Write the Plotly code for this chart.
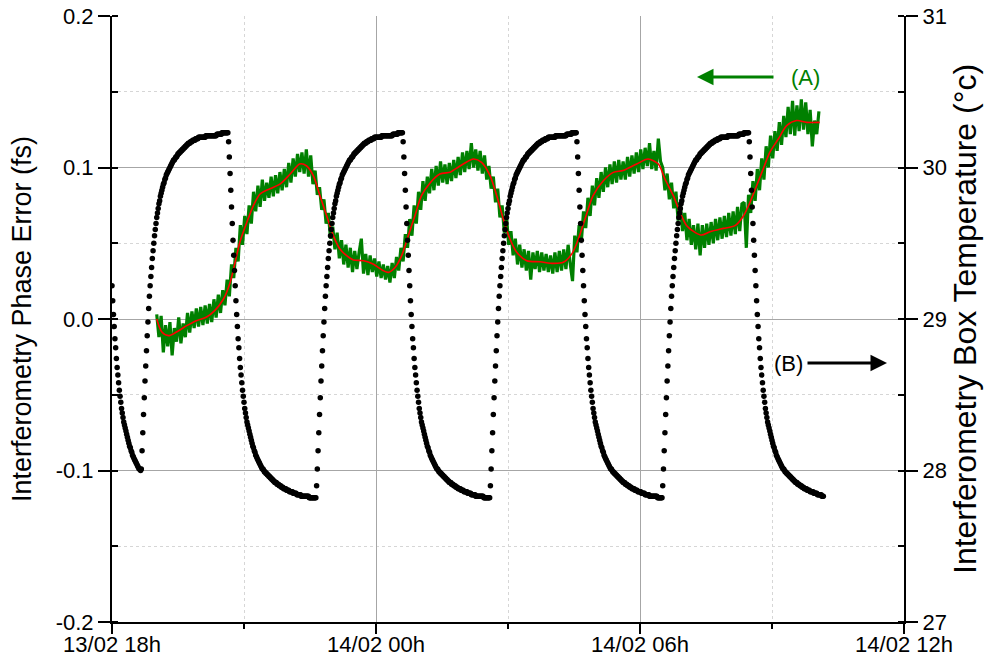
import pandas as pd
import plotly.graph_objects as go

# ---------------- data ----------------
START = pd.Timestamp("2015-02-13 18:00")
X_RANGE_HOURS = 18

# Box temperature (right axis, degC), one reading per minute.
fall_profile = [
    30.23, 30.17, 30.07, 29.96, 29.85, 29.74, 29.63, 29.52, 29.42, 29.32,
    29.22, 29.12, 29.03, 28.95, 28.87, 28.81, 28.74, 28.68, 28.63, 28.58,
    28.53, 28.49, 28.45, 28.41, 28.38, 28.35, 28.32, 28.30, 28.28, 28.26,
    28.24, 28.22, 28.20, 28.18, 28.16, 28.15, 28.13, 28.12, 28.10, 28.09,
    28.08, 28.07, 28.06, 28.05, 28.04, 28.03, 28.02, 28.01, 28.01, 28.00,
    27.99, 27.99, 27.98, 27.98, 27.97, 27.97, 27.96, 27.96, 27.95, 27.95,
    27.94, 27.94, 27.93, 27.93, 27.92, 27.92, 27.92, 27.91, 27.91, 27.91,
    27.90, 27.90, 27.90, 27.89, 27.89, 27.89, 27.88, 27.88, 27.88, 27.88,
    27.87, 27.87, 27.87, 27.87, 27.86, 27.86, 27.86, 27.86, 27.86, 27.85,
    27.85, 27.85, 27.85, 27.85, 27.84, 27.84, 27.84, 27.84, 27.84, 27.84,
    27.83, 27.83, 27.83, 27.83, 27.83, 27.83, 27.83, 27.83, 27.83, 27.83,
    27.83, 27.82, 27.82, 27.82, 27.82, 27.82, 27.82, 27.82, 27.82, 27.82,
]
rise_profile = [
    27.82, 27.90, 28.01, 28.13, 28.25, 28.37, 28.48, 28.59, 28.69, 28.79,
    28.89, 28.98, 29.07, 29.15, 29.22, 29.28, 29.34, 29.40, 29.45, 29.50,
    29.55, 29.59, 29.63, 29.67, 29.70, 29.73, 29.76, 29.78, 29.81, 29.83,
    29.85, 29.87, 29.89, 29.90, 29.92, 29.93, 29.95, 29.96, 29.97, 29.98,
    29.99, 30.00, 30.01, 30.02, 30.03, 30.04, 30.05, 30.05, 30.06, 30.07,
    30.07, 30.08, 30.09, 30.09, 30.10, 30.10, 30.11, 30.11, 30.12, 30.12,
    30.13, 30.13, 30.14, 30.14, 30.15, 30.15, 30.16, 30.16, 30.16, 30.17,
    30.17, 30.17, 30.18, 30.18, 30.18, 30.18, 30.19, 30.19, 30.19, 30.19,
    30.20, 30.20, 30.20, 30.20, 30.20, 30.20, 30.20, 30.20, 30.20, 30.20,
    30.21, 30.21, 30.21, 30.21, 30.21, 30.21, 30.21, 30.21, 30.21, 30.21,
    30.21, 30.21, 30.21, 30.21, 30.21, 30.22, 30.22, 30.22, 30.22, 30.22,
    30.22, 30.22, 30.23, 30.23, 30.23, 30.23, 30.23, 30.23, 30.23, 30.23,
]
# (branch, first sample of branch used, number of one-minute samples)
temp_segments = [
    ("fall", 10, 40), ("rise", 2, 118), ("fall", 0, 120), ("rise", 0, 118),
    ("fall", 0, 119), ("rise", 0, 118), ("fall", 0, 117), ("rise", 0, 118),
    ("fall", 0, 103),
]

# Phase error (left axis, fs), one reading every 3 minutes from 19:01
phase_start_minute = 61
phase_step_minutes = 3
phase_error = [
    0.003, -0.012, 0.002, -0.022, -0.004, -0.018, -0.002, -0.024, -0.006, -0.015,
    0.001, -0.016, -0.003, -0.012, 0.004, -0.009, 0.005, -0.006, 0.007, -0.005,
    0.008, -0.004, 0.009, -0.003, 0.010, -0.002, 0.013, 0.001, 0.016, 0.004,
    0.019, 0.009, 0.026, 0.015, 0.036, 0.027, 0.047, 0.038, 0.062, 0.049,
    0.068, 0.056, 0.075, 0.063, 0.084, 0.071, 0.088, 0.074, 0.092, 0.078,
    0.090, 0.080, 0.094, 0.081, 0.095, 0.083, 0.097, 0.085, 0.099, 0.087,
    0.103, 0.090, 0.106, 0.094, 0.109, 0.097, 0.110, 0.096, 0.112, 0.094,
    0.108, 0.089, 0.098, 0.082, 0.087, 0.072, 0.079, 0.063, 0.070, 0.053,
    0.061, 0.046, 0.057, 0.040, 0.052, 0.036, 0.049, 0.034, 0.047, 0.031,
    0.045, 0.033, 0.044, 0.053, 0.030, 0.043, 0.029, 0.042, 0.031, 0.040,
    0.028, 0.038, 0.027, 0.036, 0.026, 0.035, 0.024, 0.037, 0.027, 0.041,
    0.032, 0.047, 0.038, 0.056, 0.047, 0.066, 0.055, 0.075, 0.063, 0.084,
    0.072, 0.091, 0.078, 0.094, 0.083, 0.099, 0.085, 0.101, 0.088, 0.104,
    0.090, 0.102, 0.089, 0.103, 0.091, 0.105, 0.093, 0.107, 0.095, 0.110,
    0.097, 0.111, 0.099, 0.116, 0.100, 0.112, 0.098, 0.111, 0.096, 0.108,
    0.092, 0.101, 0.086, 0.094, 0.077, 0.086, 0.067, 0.075, 0.057, 0.067,
    0.049, 0.058, 0.042, 0.053, 0.036, 0.049, 0.034, 0.046, 0.032, 0.045,
    0.026, 0.044, 0.033, 0.045, 0.031, 0.044, 0.032, 0.043, 0.031, 0.042,
    0.030, 0.044, 0.031, 0.045, 0.032, 0.046, 0.033, 0.049, 0.036, 0.025,
    0.055, 0.044, 0.062, 0.051, 0.071, 0.060, 0.080, 0.068, 0.088, 0.075,
    0.093, 0.080, 0.097, 0.084, 0.100, 0.087, 0.102, 0.089, 0.104, 0.090,
    0.105, 0.092, 0.104, 0.092, 0.107, 0.094, 0.108, 0.096, 0.110, 0.097,
    0.112, 0.099, 0.113, 0.101, 0.116, 0.099, 0.111, 0.098, 0.119, 0.104,
    0.100, 0.085, 0.096, 0.079, 0.090, 0.073, 0.084, 0.065, 0.077, 0.058,
    0.070, 0.052, 0.066, 0.049, 0.062, 0.046, 0.063, 0.042, 0.062, 0.047,
    0.063, 0.049, 0.064, 0.050, 0.066, 0.052, 0.067, 0.053, 0.068, 0.054,
    0.070, 0.055, 0.071, 0.056, 0.074, 0.058, 0.076, 0.077, 0.047, 0.082,
    0.070, 0.091, 0.078, 0.099, 0.085, 0.106, 0.092, 0.114, 0.100, 0.121,
    0.106, 0.124, 0.111, 0.130, 0.115, 0.134, 0.120, 0.140, 0.122, 0.144,
    0.121, 0.141, 0.124, 0.145, 0.125, 0.143, 0.122, 0.138, 0.114, 0.131,
    0.122, 0.137,
]

# Smoothed phase error (red), minutes after 18:00 and value (fs)
smooth_minutes = [
    61, 68, 77, 88, 102, 115, 129, 140, 152, 161, 168, 174.5, 184, 193, 202,
    215.5, 229, 243, 256, 265.5, 274.5, 283.6, 292.8, 301.8, 311, 320, 329,
    343, 356, 370, 377, 386, 395, 404, 413, 422, 434, 447, 461, 465, 479, 493,
    504, 515.5, 524.6, 533.6, 542.7, 552, 565.5, 583.6, 601.8, 615.4, 627, 636,
    645, 656, 670, 683.6, 697, 715.5, 731, 745, 754, 765.4, 774.5, 783.7, 795,
    804, 815.5, 833.6, 849.5, 861, 870, 879, 888, 897, 908.6, 920, 933.6, 947, 965,
]
smooth_values = [
    0.0, -0.0086, -0.011, -0.0086, -0.0044, -0.0011, 0.0013, 0.0055, 0.0132,
    0.024, 0.0376, 0.051, 0.064, 0.075, 0.0825, 0.086, 0.089, 0.0957, 0.1023,
    0.101, 0.0946, 0.0814, 0.068, 0.055, 0.046, 0.0418, 0.039, 0.0385, 0.0363,
    0.0319, 0.0308, 0.034, 0.0418, 0.055, 0.068, 0.0814, 0.090, 0.0957, 0.0968,
    0.098, 0.1023, 0.1056, 0.1034, 0.0946, 0.0814, 0.066, 0.0528, 0.044, 0.0385,
    0.0378, 0.0367, 0.0374, 0.043, 0.0528, 0.066, 0.0814, 0.0913, 0.0968, 0.098,
    0.1023, 0.1056, 0.1023, 0.0924, 0.0814, 0.0704, 0.0616, 0.0572, 0.0554,
    0.0576, 0.0598, 0.0616, 0.068, 0.077, 0.088, 0.099, 0.11, 0.1188, 0.1276,
    0.131, 0.1298, 0.1298,
]

left_ticks = [-0.2, -0.1, 0.0, 0.1, 0.2]
left_tick_labels = ["-0.2", "-0.1", "0.0", "0.1", "0.2"]
right_ticks = [27, 28, 29, 30, 31]

# ---------------- assemble ----------------
branches = {"fall": fall_profile, "rise": rise_profile}
temperature = []
for name, first, count in temp_segments:
    temperature.extend(branches[name][first:first + count])
temp_time = [START + pd.Timedelta(minutes=i) for i in range(len(temperature))]
phase_time = [START + pd.Timedelta(minutes=phase_start_minute + phase_step_minutes * i)
              for i in range(len(phase_error))]
smooth_time = [START + pd.Timedelta(minutes=m) for m in smooth_minutes]

FONT = "Liberation Sans, Arial, sans-serif"
GREEN = "#008000"
MAJOR_GRID = "#a6a6a6"
MINOR_GRID = "#d6d6d6"

fig = go.Figure()
fig.add_trace(go.Scatter(x=phase_time, y=phase_error, mode="lines",
                         line=dict(color=GREEN, width=3.2), yaxis="y", showlegend=False))
fig.add_trace(go.Scatter(x=smooth_time, y=smooth_values, mode="lines",
                         line=dict(color="#ff0000", width=1.6, shape="spline", smoothing=0.8),
                         yaxis="y", showlegend=False))
fig.add_trace(go.Scatter(x=temp_time, y=temperature, mode="markers",
                         marker=dict(color="black", size=5.5), yaxis="y2", showlegend=False))

# plot box at 112..904 x 16..622 (the page body margin is removed in post_script)
fig.update_layout(
    width=984, height=659,
    margin=dict(l=112, r=80, t=16, b=37),
    paper_bgcolor="white", plot_bgcolor="white",
    font=dict(family=FONT, color="black", size=22),
    xaxis=dict(
        type="date", automargin=False, ticklabeloverflow="allow", ticklabelstandoff=-8,
        range=[START, START + pd.Timedelta(hours=X_RANGE_HOURS)],
        tick0=START, dtick=6 * 3600 * 1000, tickformat="%d/%m %Hh",
        ticks="outside", ticklen=10, tickwidth=1.5, tickcolor="black",
        showline=True, linecolor="black", linewidth=2,
        showgrid=True, gridcolor=MAJOR_GRID, gridwidth=1, zeroline=False,
        tickfont=dict(size=22),
        minor=dict(dtick=3 * 3600 * 1000, ticks="outside", ticklen=5, tickcolor="black",
                   showgrid=True, gridcolor=MINOR_GRID, griddash="dot", gridwidth=1),
    ),
    yaxis=dict(
        range=[-0.2, 0.2], tickvals=left_ticks, ticktext=left_tick_labels,
        automargin=False, ticklabeloverflow="allow",
        ticks="outside", ticklen=12, tickwidth=1.5, tickcolor="black",
        showline=True, linecolor="black", linewidth=2,
        showgrid=True, gridcolor=MAJOR_GRID, gridwidth=1, zeroline=False,
        tickfont=dict(size=22),
        title=dict(text="Interferometry Phase Error (fs)", font=dict(size=27), standoff=16),
        minor=dict(dtick=0.05, ticks="inside", ticklen=6, tickcolor="black",
                   showgrid=True, gridcolor=MINOR_GRID, griddash="dot", gridwidth=1),
    ),
    yaxis2=dict(
        range=[27, 31], tickvals=right_ticks, overlaying="y", side="right",
        automargin=False, ticklabeloverflow="allow",
        ticks="outside", ticklen=12, tickwidth=1.5, tickcolor="black",
        showline=True, linecolor="black", linewidth=2,
        showgrid=False, zeroline=False, tickfont=dict(size=22),
        minor=dict(dtick=0.5, ticks="inside", ticklen=6, tickcolor="black", showgrid=False),
    ),
)


# annotation positions given in plot-box fractions
def px_x(px):
    return (px - 112) / 792


def px_y(py):
    return (622 - py) / 606


# right axis title
fig.add_annotation(xref="paper", yref="paper", x=px_x(965), y=0.5,
                   xanchor="center", yanchor="middle", textangle=-90, showarrow=False,
                   text="Interferometry Box Temperature (°c)",
                   font=dict(size=32, color="black"))

# series markers (A) and (B)
fig.add_annotation(xref="paper", yref="paper", x=px_x(697), y=px_y(77),
                   ax=78, ay=0, text="", showarrow=True, arrowhead=2, arrowsize=1.1,
                   arrowwidth=3, arrowcolor=GREEN)
fig.add_annotation(xref="paper", yref="paper", x=px_x(805), y=px_y(77),
                   xanchor="center", yanchor="middle",
                   text="(A)", showarrow=False, font=dict(size=22, color=GREEN))
fig.add_annotation(xref="paper", yref="paper", x=px_x(887), y=px_y(363),
                   ax=-81, ay=0, text="", showarrow=True, arrowhead=2, arrowsize=1.1,
                   arrowwidth=3, arrowcolor="black")
fig.add_annotation(xref="paper", yref="paper", x=px_x(788), y=px_y(363),
                   xanchor="center", yanchor="middle",
                   text="(B)", showarrow=False, font=dict(size=22, color="black"))

fig.write_html("out.html", config={"displayModeBar": False},
               post_script="document.body.style.margin = '0px';")
